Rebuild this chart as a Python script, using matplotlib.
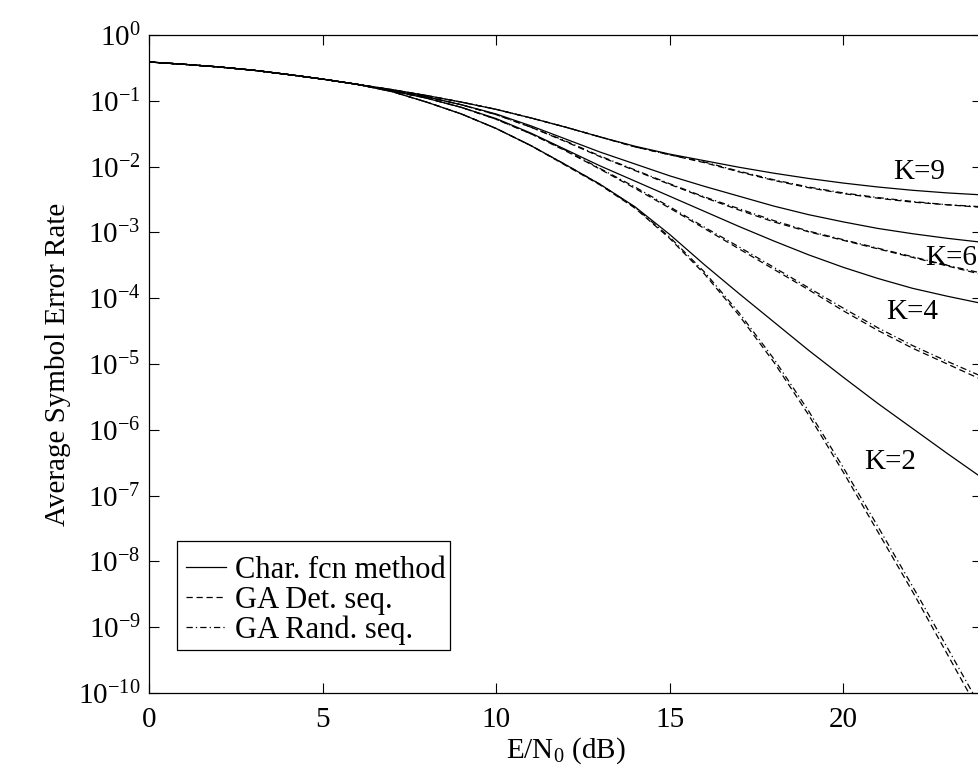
import matplotlib
matplotlib.use("Agg")
import matplotlib.pyplot as plt
from matplotlib.patches import Rectangle
import numpy as np

plt.rcParams["font.family"] = ["Liberation Serif", "DejaVu Serif"]
plt.rcParams["mathtext.fontset"] = "custom"
plt.rcParams["mathtext.rm"] = "Liberation Serif"
plt.rcParams["mathtext.it"] = "Liberation Serif:italic"

# Eb/N0 grid (dB)
snr_db = [0, 1, 2, 3, 4, 5, 6, 7, 8, 9, 10, 11, 12,
          13, 14, 15, 16, 17, 18, 19, 20, 21, 22, 23, 24]

# log10 of average symbol error rate
low = [-0.41, -0.445, -0.485, -0.535, -0.60, -0.67, -0.75]

k9_char = low + [-0.83, -0.92, -1.02, -1.13, -1.26, -1.40, -1.55, -1.69, -1.81,
                 -1.91, -2.01, -2.10, -2.18, -2.25, -2.31, -2.36, -2.40, -2.43]
k9_det = low + [-0.83, -0.92, -1.02, -1.13, -1.26, -1.40, -1.55, -1.70, -1.82,
                -1.94, -2.08, -2.21, -2.32, -2.41, -2.48, -2.54, -2.58, -2.62]
k9_rand = low + [-0.83, -0.92, -1.02, -1.13, -1.26, -1.40, -1.55, -1.70, -1.82,
                 -1.93, -2.07, -2.20, -2.31, -2.40, -2.47, -2.53, -2.58, -2.61]

k6_char = low + [-0.84, -0.94, -1.06, -1.20, -1.38, -1.58, -1.78, -1.96, -2.14,
                 -2.30, -2.45, -2.60, -2.73, -2.84, -2.94, -3.02, -3.09, -3.15]
k6_det = low + [-0.84, -0.94, -1.06, -1.21, -1.40, -1.62, -1.85, -2.06, -2.27,
                -2.47, -2.66, -2.84, -2.99, -3.12, -3.25, -3.38, -3.51, -3.64]
k6_rand = low + [-0.84, -0.94, -1.06, -1.21, -1.40, -1.61, -1.84, -2.05, -2.26,
                 -2.46, -2.64, -2.82, -2.98, -3.11, -3.24, -3.37, -3.50, -3.62]

k4_char = low + [-0.85, -0.96, -1.10, -1.27, -1.49, -1.74, -1.99, -2.22, -2.45,
                 -2.68, -2.91, -3.13, -3.34, -3.53, -3.70, -3.85, -3.97, -4.08]
k4_det = low + [-0.85, -0.96, -1.10, -1.28, -1.50, -1.76, -2.04, -2.33, -2.63,
                -2.94, -3.25, -3.56, -3.87, -4.19, -4.49, -4.76, -5.00, -5.24]
k4_rand = low + [-0.85, -0.96, -1.10, -1.28, -1.50, -1.75, -2.03, -2.31, -2.61,
                 -2.92, -3.22, -3.53, -3.84, -4.15, -4.45, -4.72, -4.96, -5.19]

k2_char = low + [-0.86, -1.02, -1.20, -1.42, -1.68, -1.97, -2.27, -2.61, -3.03,
                 -3.49, -3.93, -4.36, -4.79, -5.20, -5.60, -5.98, -6.36, -6.73]
k2_det = low + [-0.86, -1.02, -1.20, -1.42, -1.68, -1.98, -2.28, -2.63, -3.09,
                -3.63, -4.26, -4.97, -5.77, -6.64, -7.55, -8.46, -9.41, -10.36]
k2_rand = low + [-0.86, -1.02, -1.20, -1.42, -1.68, -1.97, -2.27, -2.62, -3.07,
                 -3.60, -4.22, -4.92, -5.71, -6.57, -7.47, -8.38, -9.31, -10.25]

k_labels = ["K=9", "K=6", "K=4", "K=2"]
k_label_x = [22.2, 23.1, 22.0, 21.35]
k_label_y = [-2.08, -3.39, -4.21, -6.49]

legend_labels = ["Char. fcn method", "GA Det. seq.", "GA Rand. seq."]

W, H = 979, 771
fig = plt.figure(figsize=(W / 100, H / 100), dpi=100)
ax = fig.add_axes([149 / W, 78 / H, 833 / W, 658 / H])

x = np.array(snr_db)
lw = 0.9
dash = (5, 3)
dashdot = (5, 2.5, 1, 2.5)

groups = [(k9_char, k9_det, k9_rand), (k6_char, k6_det, k6_rand),
          (k4_char, k4_det, k4_rand), (k2_char, k2_det, k2_rand)]
for i, (c, d, r) in enumerate(groups):
    l1, = ax.semilogy(x, 10.0 ** np.array(c), color="k", lw=lw)
    l2, = ax.semilogy(x, 10.0 ** np.array(d), color="k", lw=lw, dashes=dash)
    l3, = ax.semilogy(x, 10.0 ** np.array(r), color="k", lw=lw, dashes=dashdot)
    if i == 0:
        handles = [l1, l2, l3]

for lab, lx, ly in zip(k_labels, k_label_x, k_label_y):
    ax.text(lx, 10.0 ** ly, lab, fontsize=21, ha="center", va="center")

ax.set_xlim(0, 24)
ax.set_ylim(1e-10, 1)
ax.set_xticks([0, 5, 10, 15, 20])
yt = [10.0 ** e for e in range(-10, 1)]
ax.set_yticks(yt)
ax.set_yticklabels([r"$\mathrm{10}^{\mathrm{%d}}$" % e for e in range(-10, 1)])
ax.tick_params(which="both", direction="in", top=True, right=True, labelsize=21)
ax.tick_params(which="major", length=7, width=0.8)
ax.tick_params(which="minor", length=4, width=0.6)
ax.tick_params(axis="x", pad=10)
ax.tick_params(axis="y", pad=6)
for s in ax.spines.values():
    s.set_linewidth(0.9)

ax.set_xlabel(r"E/N$_0$ (dB)", fontsize=21, labelpad=2)
ax.set_ylabel("Average Symbol Error Rate", fontsize=21, labelpad=5)

# legend box drawn by hand (MATLAB-style tight frame)
frame = Rectangle((177 / W, (H - 650) / H), 273 / W, 109 / H,
                  transform=fig.transFigure, facecolor="white",
                  edgecolor="k", lw=0.9, zorder=5, clip_on=False)
ax.add_patch(frame)
leg = ax.legend(handles, legend_labels, loc="upper left",
                bbox_to_anchor=(186 / W, (H - 556) / H),
                bbox_transform=fig.transFigure, fontsize=22, frameon=False,
                handlelength=1.3, handletextpad=0.3, labelspacing=0.02,
                borderpad=0, borderaxespad=0)
leg.set_zorder(6)

fig.savefig("out.png", dpi=100)
